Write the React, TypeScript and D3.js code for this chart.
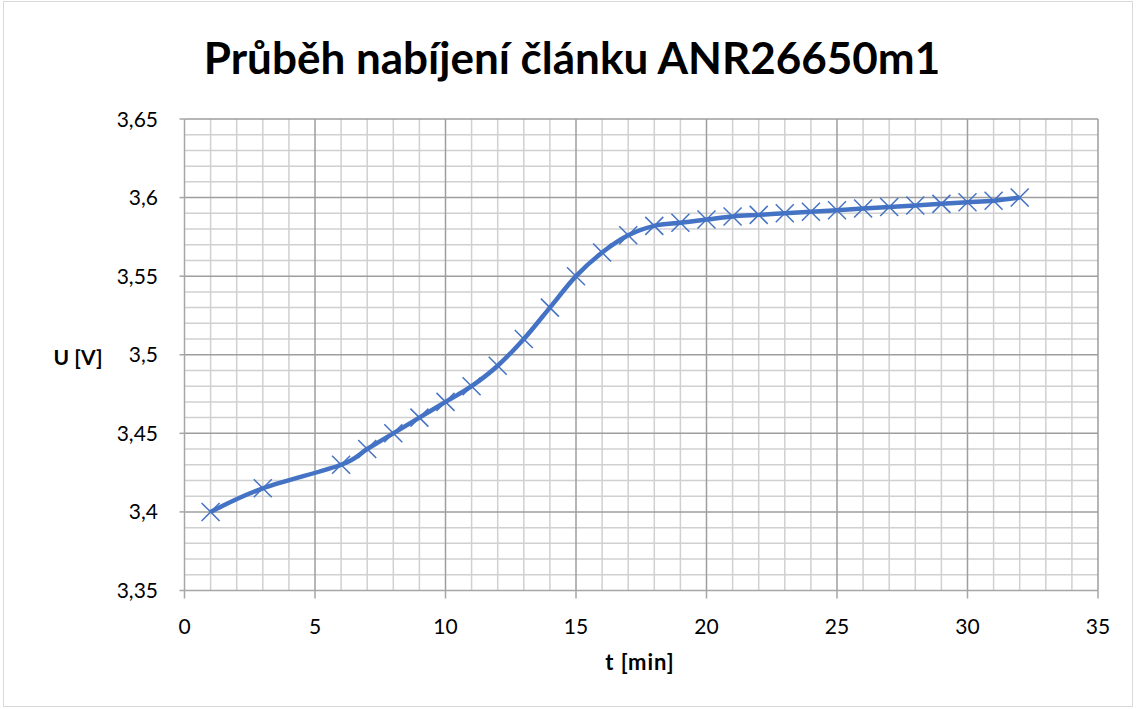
import * as d3 from "d3"

const timeMin = [1, 3, 6, 7, 8, 9, 10, 11, 12, 13, 14, 15, 16, 17, 18, 19, 20, 21, 22, 23, 24, 25, 26, 27, 28, 29, 30, 31, 32]
const voltage = [
  3.4, 3.415, 3.43, 3.44, 3.45, 3.46, 3.47, 3.48, 3.493, 3.51, 3.53, 3.55, 3.565, 3.576, 3.582, 3.584,
  3.586, 3.588, 3.589, 3.59, 3.591, 3.592, 3.593, 3.594, 3.595, 3.596, 3.597, 3.598, 3.6,
]
const xTicks = [0, 5, 10, 15, 20, 25, 30, 35]
const yTicks = [3.35, 3.4, 3.45, 3.5, 3.55, 3.6, 3.65]
const title = "Průběh nabíjení článku ANR26650m1"

const W = 1136
const H = 709
const left = 184.5
const right = 1098
const top = 119
const bottom = 590.5
const blue = "#4472C4"
const font = "Lato, 'Open Sans', sans-serif"

export default function App() {
  const x = d3.scaleLinear().domain([0, 35]).range([left, right])
  const y = d3.scaleLinear().domain([3.35, 3.65]).range([bottom, top])

  const minorX = d3.range(0, 36, 1).filter((v) => v % 5 !== 0)
  const minorY = d3.range(0, 31).map((i) => 3.35 + i * 0.01).filter((_, i) => i % 5 !== 0)

  const pts = timeMin.map((t, i) => [t, voltage[i]] as [number, number])
  const line = d3
    .line<[number, number]>()
    .x((d) => x(d[0]))
    .y((d) => y(d[1]))
    .curve(d3.curveCardinal.tension(0))
  const fmt = (v: number) => String(+v.toFixed(2)).replace(".", ",")
  const m = 9

  return (
    <div style={{ position: "absolute", left: 0, top: 0 }}>
      <svg width={W} height={H} style={{ display: "block", background: "#fff" }}>
        <rect x={3.5} y={1.5} width={1129} height={705} fill="#fff" stroke="#d9d9d9" strokeWidth={1} />
        <text x={572} y={74} textAnchor="middle" fontFamily={font} fontWeight="bold" fontSize={44} fill="#000">
          {title}
        </text>

        {/* minor grid */}
        <g stroke="#d0d0d0" strokeWidth={1.5}>
          {minorX.map((v) => (
            <line key={"mx" + v} x1={x(v)} x2={x(v)} y1={top} y2={bottom} />
          ))}
          {minorY.map((v, i) => (
            <line key={"my" + i} x1={left} x2={right} y1={y(v)} y2={y(v)} />
          ))}
        </g>
        {/* major grid */}
        <g stroke="#9e9e9e" strokeWidth={1.5}>
          {xTicks.slice(1).map((v) => (
            <line key={"Mx" + v} x1={x(v)} x2={x(v)} y1={top} y2={bottom} />
          ))}
          {yTicks.slice(1).map((v) => (
            <line key={"My" + v} x1={left} x2={right} y1={y(v)} y2={y(v)} />
          ))}
        </g>

        {/* axes */}
        <g stroke="#a6a6a6" strokeWidth={1.5}>
          <line x1={left} x2={left} y1={top} y2={bottom} />
          <line x1={left} x2={right} y1={bottom} y2={bottom} />
          {xTicks.map((v) => (
            <line key={"tx" + v} x1={x(v)} x2={x(v)} y1={bottom} y2={bottom + 8} />
          ))}
          {yTicks.map((v) => (
            <line key={"ty" + v} x1={left - 5} x2={left} y1={y(v)} y2={y(v)} />
          ))}
        </g>

        <g fontFamily={font} fontSize={21} fill="#000">
          {xTicks.map((v) => (
            <text key={"lx" + v} x={x(v)} y={bottom + 43} textAnchor="middle">
              {v}
            </text>
          ))}
          {yTicks.map((v) => (
            <text key={"ly" + v} x={158} y={y(v) + 7.5} textAnchor="end">
              {fmt(v)}
            </text>
          ))}
        </g>

        <text x={78} y={365} textAnchor="middle" fontFamily={font} fontWeight="bold" fontSize={21}>
          U [V]
        </text>
        <text x={640} y={670} textAnchor="middle" fontFamily={font} fontWeight="bold" fontSize={22} letterSpacing={1}>
          t [min]
        </text>

        <path d={line(pts) ?? undefined} fill="none" stroke={blue} strokeWidth={4.5} strokeLinejoin="round" />
        <g stroke={blue} strokeWidth={1.5}>
          {pts.map((d, i) => (
            <g key={"p" + i} transform={`translate(${x(d[0])},${y(d[1])})`}>
              <line x1={-m} y1={-m} x2={m} y2={m} />
              <line x1={-m} y1={m} x2={m} y2={-m} />
            </g>
          ))}
        </g>
      </svg>
    </div>
  )
}
